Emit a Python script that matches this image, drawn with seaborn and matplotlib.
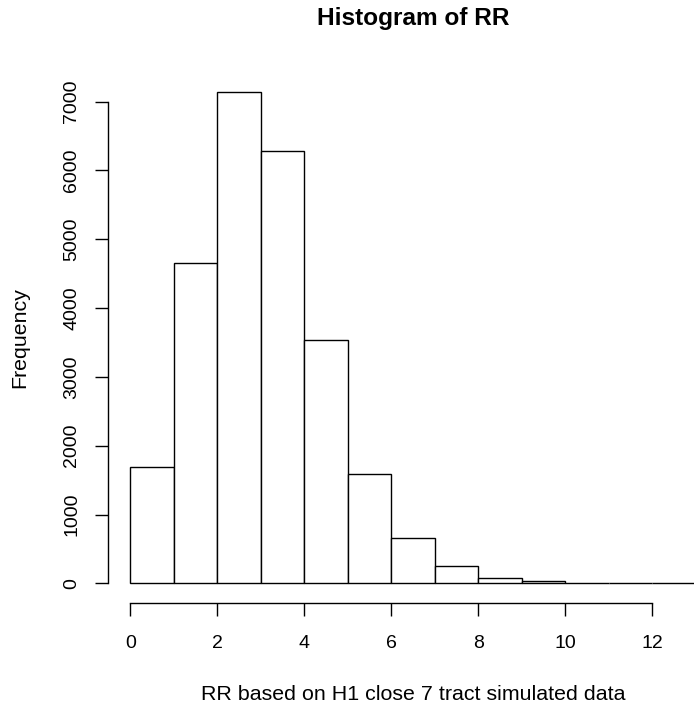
import numpy as np
import pandas as pd
import matplotlib
matplotlib.use("Agg")
import matplotlib.pyplot as plt
import seaborn as sns

# Data (bins of width 1 from 0 to 13)
bin_edges = [0, 1, 2, 3, 4, 5, 6, 7, 8, 9, 10, 11, 12, 13]
counts = [1692, 4660, 7145, 6282, 3533, 1582, 658, 245, 78, 27, 10, 3, 1]
x_ticks = [0, 2, 4, 6, 8, 10, 12]
y_ticks = [0, 1000, 2000, 3000, 4000, 5000, 6000, 7000]
title = "Histogram of RR"
x_label = "RR based on H1 close 7 tract simulated data"
y_label = "Frequency"

sns.set_style("white")
plt.rcParams['font.family'] = ['Liberation Sans', 'DejaVu Sans']
plt.rcParams['text.color'] = 'black'
plt.rcParams['axes.labelcolor'] = 'black'

mids = [(bin_edges[i] + bin_edges[i + 1]) / 2 for i in range(len(counts))]
df = pd.DataFrame({"RR": mids, "n": counts})

fig = plt.figure(figsize=(6.94, 7.08), dpi=100)
ax = fig.add_axes([107.7 / 694, (708 - 603.0) / 708, 610.7 / 694, 531 / 708])

sns.histplot(data=df, x="RR", weights="n", bins=bin_edges, stat="count",
             color="white", edgecolor="black", linewidth=1.0, alpha=1.0, ax=ax)

xmin, xmax = bin_edges[0], bin_edges[-1]
xr = xmax - xmin
ymax = max(counts)
ax.set_xlim(xmin - 0.04 * xr, xmax + 0.04 * xr)
ax.set_ylim(-0.04 * ymax, 1.04 * ymax)

for s in ["top", "right"]:
    ax.spines[s].set_visible(False)
for s in ["left", "bottom"]:
    ax.spines[s].set_linewidth(1.0)
    ax.spines[s].set_color("black")
ax.spines["bottom"].set_bounds(x_ticks[0], x_ticks[-1])
ax.spines["left"].set_bounds(y_ticks[0], y_ticks[-1])

ax.set_xticks(x_ticks)
ax.set_xticklabels([str(v) for v in x_ticks])
ax.set_yticks(y_ticks)
ax.set_yticklabels([str(v) for v in y_ticks], rotation=90, va="center")
ax.tick_params(axis="both", which="major", bottom=True, left=True,
               direction="out", length=9.1, width=1.0,
               color="black", labelsize=14, labelcolor="black")
ax.tick_params(axis="x", pad=14.0)
ax.tick_params(axis="y", pad=10.5)

ax.set_xlabel(x_label, fontsize=15.4, color="black")
ax.xaxis.label.set_va("center")
ax.xaxis.set_label_coords(0.5, (603.0 - 694) / 531)
ax.set_ylabel(y_label, fontsize=15.4, color="black")
ax.yaxis.label.set_va("center")
ax.yaxis.set_label_coords((20 - 107.7) / 610.7, 0.5)

ax.set_title(title, fontsize=17.6, fontweight="bold", color="black",
             y=1 + (72 - 19) / 531, va="center", pad=0)

fig.savefig("out.png", dpi=100)
